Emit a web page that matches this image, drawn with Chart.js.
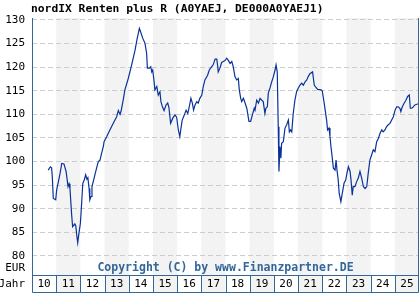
<!DOCTYPE html>
<html lang="de">
<head>
    <meta charset="UTF-8">
    <title>nordIX Renten plus R</title>
    <script src="https://cdn.jsdelivr.net/npm/chart.js"></script>
    <style>
        html, body { margin: 0; padding: 0; background: #fff; }
        canvas { display: block; }
    </style>
</head>
<body>
    <canvas id="fundChart" width="420" height="300"></canvas>

    <script>
        // Kursverlauf (Zeit in Dezimaljahren, Kurs in EUR)
        const years = [
            2010.67, 2010.76, 2010.81, 2010.84, 2010.88, 2010.98, 2011.02, 2011.09, 2011.16, 2011.23,
            2011.32, 2011.41, 2011.49, 2011.53, 2011.57, 2011.64, 2011.68, 2011.77, 2011.81, 2011.85,
            2011.89, 2011.94, 2012.00, 2012.04, 2012.10, 2012.16, 2012.22, 2012.27, 2012.31, 2012.36,
            2012.39, 2012.44, 2012.48, 2012.53, 2012.60, 2012.67, 2012.74, 2012.81, 2012.88, 2012.95,
            2012.98, 2013.09, 2013.22, 2013.36, 2013.50, 2013.57, 2013.64, 2013.68, 2013.77, 2013.84,
            2013.98, 2014.12, 2014.26, 2014.35, 2014.44, 2014.49, 2014.58, 2014.67, 2014.74, 2014.77,
            2014.85, 2014.91, 2014.95, 2014.99, 2015.04, 2015.08, 2015.16, 2015.22, 2015.29, 2015.33,
            2015.40, 2015.46, 2015.54, 2015.61, 2015.66, 2015.73, 2015.82, 2015.91, 2015.98, 2016.05,
            2016.11, 2016.16, 2016.21, 2016.30, 2016.37, 2016.44, 2016.49, 2016.57, 2016.63, 2016.68,
            2016.74, 2016.81, 2016.87, 2016.94, 2017.02, 2017.08, 2017.15, 2017.26, 2017.33, 2017.43,
            2017.49, 2017.57, 2017.64, 2017.68, 2017.70, 2017.77, 2017.84, 2017.91, 2017.98, 2018.05,
            2018.11, 2018.19, 2018.26, 2018.32, 2018.39, 2018.46, 2018.53, 2018.57, 2018.63, 2018.67,
            2018.74, 2018.81, 2018.88, 2018.97, 2019.04, 2019.11, 2019.19, 2019.22, 2019.29, 2019.36,
            2019.43, 2019.50, 2019.56, 2019.63, 2019.67, 2019.73, 2019.77, 2019.84, 2019.91, 2019.98,
            2020.05, 2020.09, 2020.14, 2020.18, 2020.21, 2020.25, 2020.29, 2020.32, 2020.39, 2020.46,
            2020.53, 2020.60, 2020.64, 2020.69, 2020.74, 2020.80, 2020.87, 2020.94, 2021.01, 2021.08,
            2021.15, 2021.22, 2021.29, 2021.36, 2021.42, 2021.49, 2021.60, 2021.67, 2021.74, 2021.81,
            2021.95, 2022.00, 2022.08, 2022.18, 2022.22, 2022.28, 2022.32, 2022.36, 2022.41, 2022.46,
            2022.53, 2022.57, 2022.61, 2022.66, 2022.70, 2022.77, 2022.83, 2022.90, 2022.97, 2023.02,
            2023.08, 2023.15, 2023.19, 2023.24, 2023.28, 2023.35, 2023.42, 2023.49, 2023.56, 2023.63,
            2023.70, 2023.77, 2023.84, 2023.90, 2023.97, 2024.04, 2024.11, 2024.18, 2024.25, 2024.32,
            2024.39, 2024.46, 2024.52, 2024.59, 2024.66, 2024.73, 2024.80, 2024.87, 2024.94, 2025.01,
            2025.08, 2025.14, 2025.21, 2025.25, 2025.31, 2025.39, 2025.46, 2025.53, 2025.60, 2025.64,
            2025.70, 2025.76, 2025.83, 2025.94, 2025.99
        ];
        const prices = [
            98.2, 98.9, 98.7, 96.7, 92.2, 91.9, 94.0, 95.7, 97.5, 99.6,
            99.5, 97.9, 94.7, 95.3, 94.3, 88.7, 86.2, 86.8, 86.4, 84.4,
            82.8, 84.8, 86.9, 90.1, 95.4, 96.1, 97.2, 96.3, 96.6, 94.3,
            91.9, 92.6, 94.7, 95.7, 97.2, 98.6, 100.0, 100.3, 101.8, 103.2,
            104.2, 105.3, 106.7, 108.1, 109.5, 110.8, 110.0, 110.6, 113.0, 115.2,
            117.6, 120.5, 123.6, 126.1, 128.2, 127.5, 126.1, 125.1, 122.9, 119.8,
            119.8, 120.1, 119.0, 119.4, 117.3, 115.2, 115.9, 114.1, 114.8, 112.7,
            111.5, 110.8, 112.0, 112.4, 111.5, 108.1, 109.2, 109.9, 109.4, 106.7,
            105.3, 107.1, 108.8, 109.9, 110.9, 110.2, 111.3, 113.4, 112.4, 110.9,
            112.0, 112.7, 112.4, 113.4, 114.1, 115.9, 117.3, 118.3, 119.4, 120.1,
            120.5, 121.7, 121.7, 120.1, 119.0, 119.8, 121.0, 121.2, 121.4, 121.9,
            121.5, 120.8, 121.2, 120.1, 118.0, 117.3, 117.6, 115.2, 113.4, 112.7,
            113.4, 112.4, 111.3, 108.5, 108.5, 109.9, 111.3, 110.9, 113.0, 112.4,
            113.4, 113.0, 112.7, 110.2, 111.3, 111.6, 114.5, 115.6, 116.9, 118.0,
            119.4, 120.5, 119.0, 107.4, 97.9, 103.2, 100.7, 103.9, 104.2, 107.1,
            107.8, 108.8, 106.3, 106.7, 106.3, 110.2, 113.0, 114.8, 115.6, 116.2,
            116.6, 116.2, 116.9, 117.3, 118.0, 118.6, 119.0, 116.2, 115.7, 115.3,
            115.2, 115.0, 112.4, 108.8, 106.7, 107.1, 105.3, 103.2, 101.0, 98.6,
            98.2, 100.3, 98.2, 96.1, 93.3, 91.5, 93.3, 95.4, 96.1, 97.5,
            98.9, 97.9, 96.1, 92.9, 94.7, 94.7, 95.7, 96.5, 97.9, 96.5,
            94.7, 94.3, 94.7, 97.5, 100.3, 101.4, 102.5, 102.1, 104.2, 104.9,
            106.0, 106.7, 106.3, 106.7, 107.4, 107.8, 108.1, 108.8, 109.5, 110.9,
            111.6, 111.6, 111.3, 110.6, 111.6, 112.4, 113.0, 113.8, 114.1, 111.3,
            111.3, 111.6, 112.0, 112.2, 112.2
        ];
        const yearLabels = ['10', '11', '12', '13', '14', '15', '16', '17', '18', '19', '20', '21', '22', '23', '24', '25'];
        const yTicks = [80, 85, 90, 95, 100, 105, 110, 115, 120, 125, 130];

        const FIRST_YEAR = 2010;
        const FRAME = '#336699';
        const MONO = '"DejaVu Sans Mono", monospace';

        // Hintergrund, Jahresbänder, Rahmen und Beschriftungen
        const framePlugin = {
            id: 'frame',
            beforeDraw(chart) {
                const { ctx, chartArea: a, scales: { x } } = chart;
                const rowBottom = a.bottom + 17;
                ctx.save();
                ctx.fillStyle = '#fff';
                ctx.fillRect(0, 0, chart.width, chart.height);
                ctx.fillStyle = '#f3f3f3';
                yearLabels.forEach((_, i) => {
                    if (i % 2 === 1) {
                        const x0 = x.getPixelForValue(FIRST_YEAR + i);
                        const x1 = x.getPixelForValue(FIRST_YEAR + i + 1);
                        ctx.fillRect(x0, a.top, x1 - x0, rowBottom - a.top);
                    }
                });
                ctx.restore();
            },
            afterDraw(chart) {
                const { ctx, chartArea: a, scales: { x } } = chart;
                const rowBottom = a.bottom + 17;
                ctx.save();
                ctx.strokeStyle = FRAME;
                ctx.lineWidth = 1;
                ctx.beginPath();
                ctx.moveTo(a.left + 0.5, a.top);
                ctx.lineTo(a.left + 0.5, rowBottom + 0.5);
                ctx.lineTo(a.right - 0.5, rowBottom + 0.5);
                ctx.lineTo(a.right - 0.5, a.top);
                ctx.moveTo(a.left, a.bottom + 0.5);
                ctx.lineTo(a.right, a.bottom + 0.5);
                for (let i = 1; i < yearLabels.length; i++) {
                    const px = Math.round(x.getPixelForValue(FIRST_YEAR + i)) + 0.5;
                    ctx.moveTo(px, a.bottom);
                    ctx.lineTo(px, rowBottom);
                }
                ctx.stroke();

                ctx.fillStyle = '#000';
                ctx.textBaseline = 'middle';
                ctx.textAlign = 'right';
                ctx.font = '11px ' + MONO;
                ctx.fillText('EUR', 25, 268);
                ctx.fillText('Jahr', 25, 284);

                ctx.textAlign = 'left';
                ctx.font = 'bold 11.3px ' + MONO;
                ctx.fillText('nordIX Renten plus R (A0YAEJ, DE000A0YAEJ1)', 31, 9);

                ctx.textAlign = 'center';
                ctx.fillStyle = FRAME;
                ctx.font = 'bold 11.5px ' + MONO;
                ctx.fillText('Copyright (C) by www.Finanzpartner.DE', (a.left + a.right) / 2, 268);
                ctx.restore();
            }
        };

        const chart = new Chart(document.getElementById('fundChart'), {
            type: 'line',
            data: {
                datasets: [{
                    data: years.map((t, i) => ({ x: t, y: prices[i] })),
                    borderColor: '#0a3399',
                    borderWidth: 1.2,
                    pointRadius: 0,
                    tension: 0,
                    fill: false
                }]
            },
            options: {
                responsive: false,
                animation: false,
                layout: { padding: { top: 18, right: 1, bottom: 8, left: 0 } },
                plugins: {
                    legend: { display: false },
                    title: { display: false },
                    tooltip: { enabled: false }
                },
                scales: {
                    x: {
                        type: 'linear',
                        min: FIRST_YEAR,
                        max: FIRST_YEAR + yearLabels.length,
                        grid: { display: false, drawTicks: false },
                        border: { display: false },
                        afterBuildTicks(scale) {
                            scale.ticks = yearLabels.map((_, i) => ({ value: FIRST_YEAR + i + 0.5 }));
                        },
                        afterFit(scale) { scale.height = 17; },
                        ticks: {
                            autoSkip: false,
                            maxRotation: 0,
                            padding: 3,
                            color: '#000',
                            font: { family: MONO, size: 11 },
                            callback: (value, index) => yearLabels[index]
                        }
                    },
                    y: {
                        min: 75.97,
                        max: 130.42,
                        grid: { color: '#cccccc', drawTicks: false },
                        border: { display: false, dash: [5, 3] },
                        afterBuildTicks(scale) {
                            scale.ticks = yTicks.map(v => ({ value: v }));
                        },
                        afterFit(scale) { scale.width = 32; },
                        ticks: {
                            padding: 7,
                            color: '#000',
                            font: { family: MONO, size: 11 }
                        }
                    }
                }
            },
            plugins: [framePlugin]
        });
    </script>
</body>
</html>
